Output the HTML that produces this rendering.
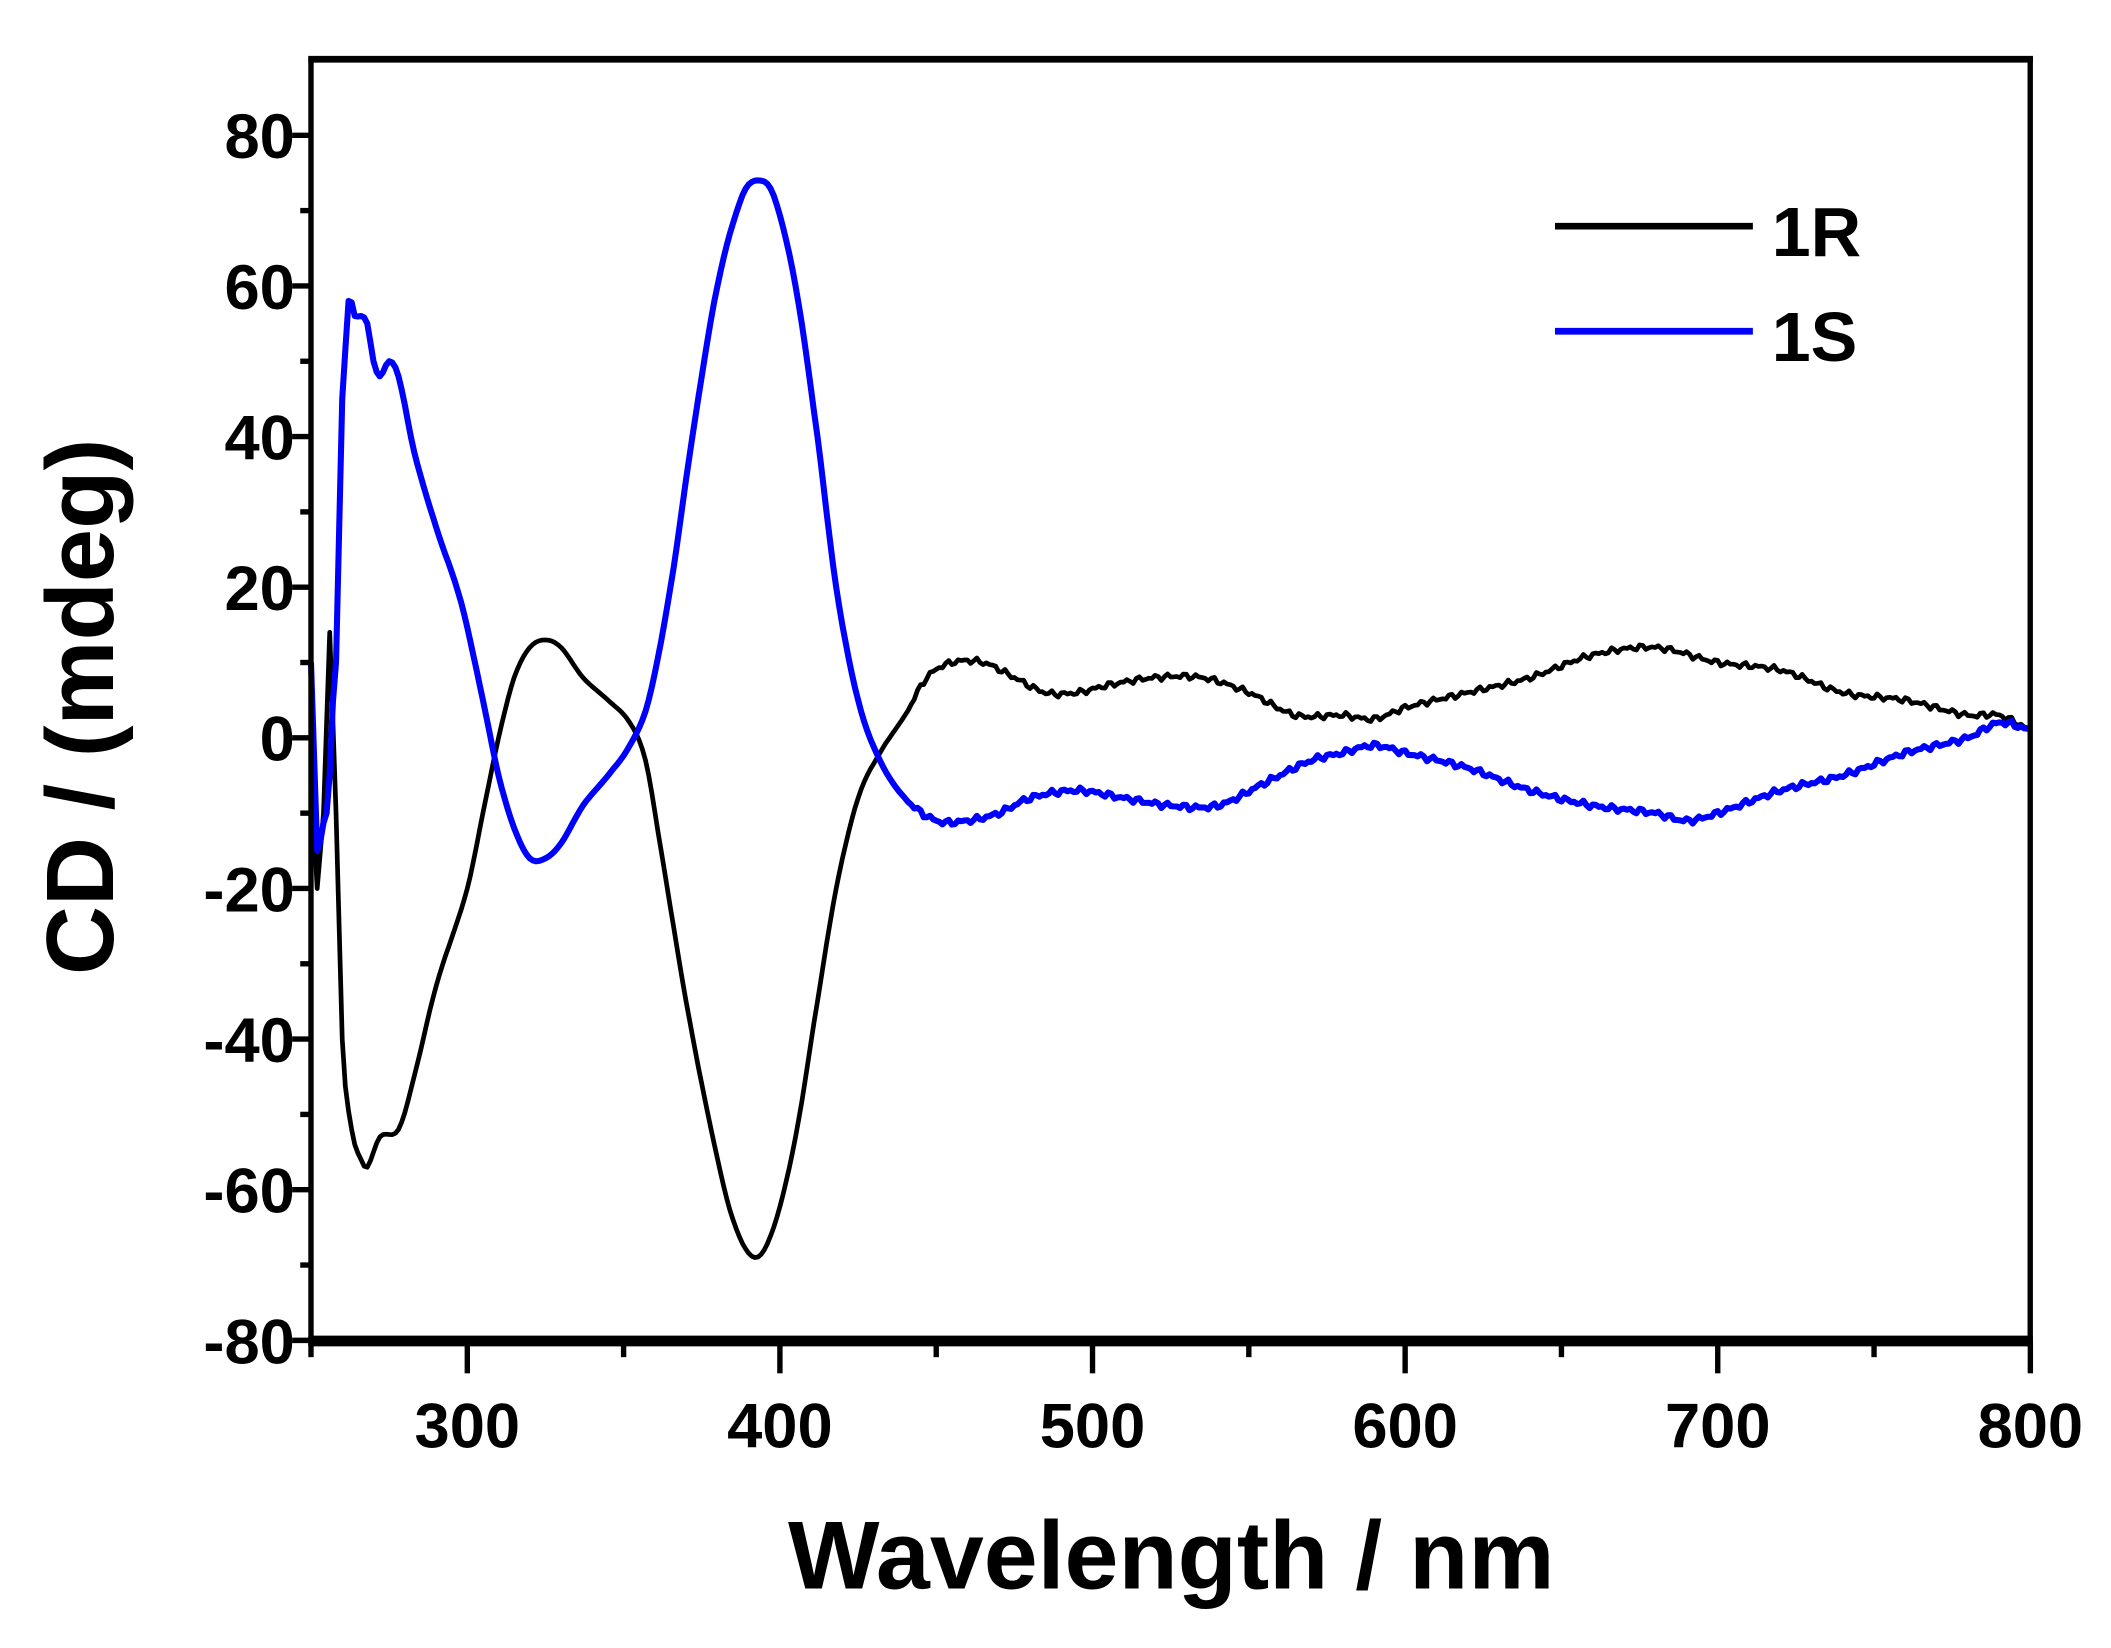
<!DOCTYPE html>
<html><head><meta charset="utf-8"><style>
html,body{margin:0;padding:0;background:#fff;}
svg{display:block;}
text{font-family:"Liberation Sans",Arial,sans-serif;font-weight:bold;fill:#000;}
</style></head><body>
<svg id="s" width="2111" height="1648" viewBox="0 0 1568 1224" preserveAspectRatio="none">
<rect x="0" y="0" width="1568" height="1224" fill="#fff"/>
<g id="series"></g>
<g stroke="#000" fill="none">
<line x1="229" y1="44" x2="1510" y2="44" stroke-width="5"/>
<line x1="231" y1="42" x2="231" y2="999" stroke-width="4"/>
<line x1="1508" y1="42" x2="1508" y2="999" stroke-width="4"/>
<line x1="229" y1="996" x2="1510" y2="996" stroke-width="8"/>
<g id="ticks" stroke-width="4"></g>
</g>
<g font-size="47" text-anchor="end" id="ylab"></g>
<g font-size="47" text-anchor="middle" id="xlab"></g>
<text x="870" y="1180" font-size="72" text-anchor="middle">Wavelength / nm</text>
<text transform="translate(84,525) rotate(-90)" font-size="71" text-anchor="middle">CD / (mdeg)</text>
<line x1="1155" y1="168" x2="1302" y2="168" stroke="#000" stroke-width="5"/>
<line x1="1155" y1="246" x2="1302" y2="246" stroke="#0000ff" stroke-width="5"/>
<text x="1316" y="190" font-size="52">1R</text>
<text x="1316" y="268" font-size="52">1S</text>
</svg>
<script>
var NS="http://www.w3.org/2000/svg";
function X(w){return 231+(w-250)*2.322;}
function Y(v){return 548-v*5.594;}
function el(p,t,a){var e=document.createElementNS(NS,t);for(var k in a)e.setAttribute(k,a[k]);p.appendChild(e);return e;}
var tk=document.getElementById('ticks');
for(var v=-80;v<=80;v+=10){var maj=v%20==0;el(tk,'line',{x1:231-(maj?14:8),y1:Y(v),x2:231,y2:Y(v)});}
for(var w=250;w<=800;w+=50){var maj=w%100==0;el(tk,'line',{x1:X(w),y1:996,x2:X(w),y2:996+(maj?24:12)});}
var yl=document.getElementById('ylab');
for(var v=-80;v<=80;v+=20){var t=el(yl,'text',{x:219,y:Y(v)+17});t.textContent=v;}
var xl=document.getElementById('xlab');
for(var w=300;w<=800;w+=100){var t=el(xl,'text',{x:X(w),y:1075});t.textContent=w;}
var R=[[250,-5],[252,-20],[254,-10],[256,14],[258,-10],[260,-40],[263,-52],[266,-56],[268,-57],[272,-53],[278,-52],[283,-45],[290,-33],[300,-20],[305,-10],[310,0],[315,8],[320,12],[325,13],[330,12],[337,8],[345,5],[352,2],[357,-3],[362,-15],[370,-35],[378,-52],[385,-64],[392,-69],[398,-65],[405,-53],[412,-35],[418,-20],[425,-8],[432,-2],[440,3],[447,8],[455,10],[465,10],[475,8],[485,6],[495,6],[505,7],[520,8],[535,8],[550,6],[565,3],[580,3],[590,2.5],[600,4],[620,6],[640,8],[660,11],[680,12],[700,10],[720,9],[740,6],[760,5],[780,3],[790,3],[800,1]];
var S=[[250,10],[252,-15],[255,-10],[258,10],[260,45],[262,58],[264,56],[266,56],[268,55],[270,50],[272,48],[275,50],[278,48],[283,38],[290,28],[298,18],[305,5],[310,-5],[315,-12],[320,-16],[325,-16],[330,-14],[337,-9],[345,-5],[352,-1],[358,5],[365,20],[372,40],[380,60],[388,72],[393,74],[398,72],[405,60],[412,40],[418,20],[425,5],[432,-3],[440,-8],[450,-11],[460,-11],[470,-10],[480,-8],[495,-7],[510,-8],[525,-9],[540,-9],[555,-6],[570,-3],[580,-2],[590,-1],[600,-2],[620,-4],[640,-7],[660,-9],[680,-10],[690,-11],[700,-10],[720,-7],[740,-5],[760,-2],[780,0],[790,2],[800,1]];
function interp(d){var out=[];for(var i=0;i<d.length-1;i++){var p0=d[Math.max(0,i-1)],p1=d[i],p2=d[i+1],p3=d[Math.min(d.length-1,i+2)];var n=Math.max(1,Math.round((p2[0]-p1[0])));
var m1=(p2[1]-p0[1])/(p2[0]-p0[0]||1)*(p2[0]-p1[0]),m2=(p3[1]-p1[1])/(p3[0]-p1[0]||1)*(p2[0]-p1[0]);
if(i<5){m1=0;m2=0;}
for(var j=0;j<n;j++){var t=j/n;var h00=2*t*t*t-3*t*t+1,h10=t*t*t-2*t*t+t,h01=-2*t*t*t+3*t*t,h11=t*t*t-t*t;
var w=p1[0]+(p2[0]-p1[0])*t;var v=h00*p1[1]+h10*m1+h01*p2[1]+h11*m2;if(w>440)v+=0.45*Math.sin(w*1.7)*Math.sin(w*0.37);out.push(X(w).toFixed(1)+','+Y(v).toFixed(1));}}var l=d[d.length-1];out.push(X(l[0])+','+Y(l[1]));return out.join(' ');}
var g=document.getElementById('series');
el(g,'polyline',{points:interp(R),fill:'none',stroke:'#000','stroke-width':3.5,'stroke-linejoin':'round'});
el(g,'polyline',{points:interp(S),fill:'none',stroke:'#0000ff','stroke-width':4.5,'stroke-linejoin':'round'});
</script>
</body></html>
